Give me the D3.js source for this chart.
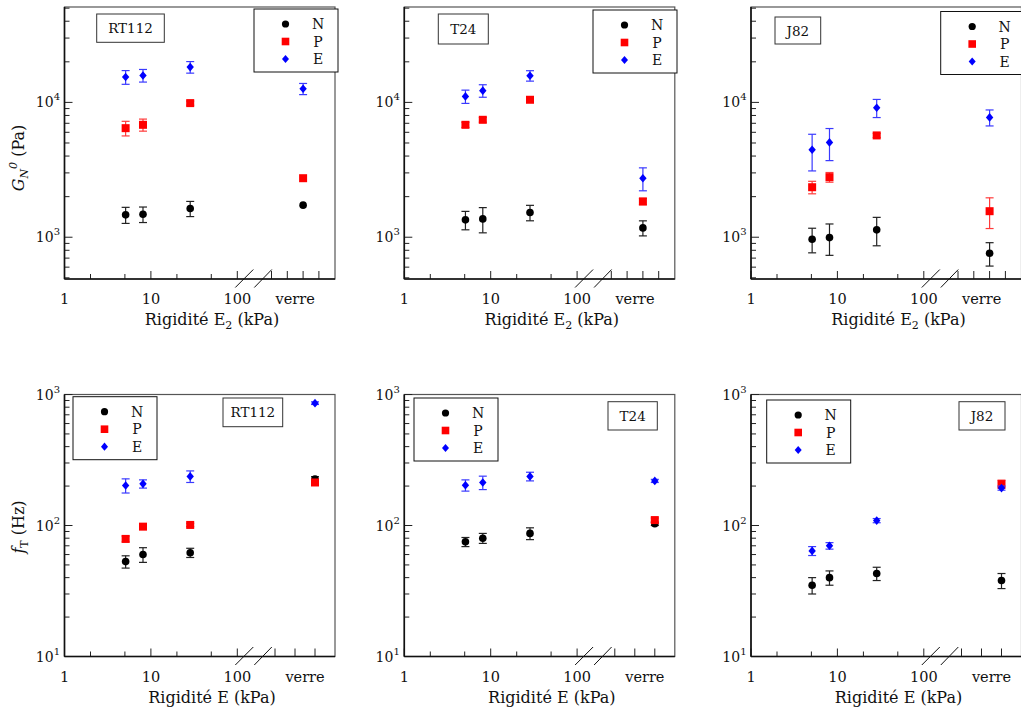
<!DOCTYPE html>
<html><head><meta charset="utf-8">
<script src="https://cdn.jsdelivr.net/npm/d3@7"></script>
<style>
body{margin:0;background:#fff}
svg{display:block}
text{font-family:"DejaVu Serif","Liberation Serif",serif;fill:#111}
</style>
</head><body>
<svg id="chart" width="1021" height="709"></svg>
<script>
// ---------------- DATA ----------------
const panelNames = ["RT112", "T24", "J82"];
const seriesNames = ["N", "P", "E"];
const xValues = [5.1, 8.1, 28.5, "verre"];           // stiffness (kPa) + glass
const xMajorTicks = [1, 10, 100];
const xMajorLabels = ["1", "10", "100"];
const xMinorTicks = [2, 5, 20, 50];
const verreLabel = "verre";

// Top row : G_N^0 (Pa)
const G_RT112_N = [1466, 1480, 1633, 1729];
const G_RT112_N_err = [200, 195, 210, 0];
const G_RT112_P = [6440, 6820, 9880, 2740];
const G_RT112_P_err = [800, 700, 350, 0];
const G_RT112_E = [15420, 15850, 18280, 12620];
const G_RT112_E_err = [1800, 1700, 1800, 1200];

const G_T24_N = [1345, 1368, 1524, 1173];
const G_T24_N_err = [210, 290, 200, 150];
const G_T24_P = [6820, 7430, 10460, 1842];
const G_T24_P_err = [300, 300, 300, 100];
const G_T24_E = [11080, 12220, 15780, 2740];
const G_T24_E_err = [1250, 1300, 1400, 530];

const G_J82_N = [966, 994, 1134, 761];
const G_J82_N_err = [200, 260, 270, 150];
const G_J82_P = [2349, 2790, 5690, 1560];
const G_J82_P_err = [250, 230, 200, 400];
const G_J82_E = [4453, 5050, 9120, 7740];
const G_J82_E_err = [1350, 1350, 1400, 1050];

// Bottom row : f_T (Hz)
const F_RT112_N = [53, 60, 62, 226];
const F_RT112_N_err = [5.7, 7.7, 5, 10];
const F_RT112_P = [79, 98, 101, 213];
const F_RT112_P_err = [4, 3, 3, 10];
const F_RT112_E = [202, 208, 237, 859];
const F_RT112_E_err = [25, 15, 24, 20];

const F_T24_N = [75, 80, 87, 103];
const F_T24_N_err = [6, 7, 9, 3];
const F_T24_P = [null, null, null, 110];
const F_T24_P_err = [0, 0, 0, 4];
const F_T24_E = [203, 213, 237, 219];
const F_T24_E_err = [20, 25, 18, 6];

const F_J82_N = [35, 40, 43, 38];
const F_J82_N_err = [5, 5, 5, 5];
const F_J82_P = [null, null, null, 207];
const F_J82_P_err = [0, 0, 0, 15];
const F_J82_E = [64, 70, 109, 193];
const F_J82_E_err = [5, 4, 4, 7];

// tables built from arrays
const topData = {
  RT112: {N:[G_RT112_N,G_RT112_N_err], P:[G_RT112_P,G_RT112_P_err], E:[G_RT112_E,G_RT112_E_err]},
  T24:   {N:[G_T24_N,G_T24_N_err],     P:[G_T24_P,G_T24_P_err],     E:[G_T24_E,G_T24_E_err]},
  J82:   {N:[G_J82_N,G_J82_N_err],     P:[G_J82_P,G_J82_P_err],     E:[G_J82_E,G_J82_E_err]}
};
const botData = {
  RT112: {N:[F_RT112_N,F_RT112_N_err], P:[F_RT112_P,F_RT112_P_err], E:[F_RT112_E,F_RT112_E_err]},
  T24:   {N:[F_T24_N,F_T24_N_err],     P:[F_T24_P,F_T24_P_err],     E:[F_T24_E,F_T24_E_err]},
  J82:   {N:[F_J82_N,F_J82_N_err],     P:[F_J82_P,F_J82_P_err],     E:[F_J82_E,F_J82_E_err]}
};

// ---------------- STYLE / LAYOUT ----------------
const colors = {N:"#000000", P:"#ff0000", E:"#0000ff"};
const errColors = {N:"#222222", P:"#ff3b3b", E:"#3a3aff"};
const colLeft = [64.5, 404.3, 751];
const plotW = 270.5;

const rows = [
  {top:7, bottom:279, domain:[490, 51000], data:topData,
   postDomain:[0,4], postRange:[207, 270.2], postTicks:[0,1,2,3], verreIdx:2,
   legend:[[189.5,2],[188.7,3],[189.7,4.5]],
   labelBox:[[32.2,7,67.6,28.3],[34,7,50,30],[24,10,45.7,27]],
   xTitle:"E2", yTitle:"G", yTitleY:158},
  {top:394.5, bottom:656.5, domain:[10, 1000], data:botData,
   postDomain:[0,3], postRange:[210.5, 270.5], postTicks:[0,1,2], verreIdx:2,
   legend:[[8.5,2.2],[9.7,3.5],[15.7,5.5]],
   labelBox:[[158.5,3.5,59.7,28.7],[203.7,7.2,49.3,28.3],[208,7.2,46,28.3]],
   xTitle:"E", yTitle:"f", yTitleY:527}
];

const svg = d3.select("#chart");

function drawMarker(sel, s, cx, cy, k) {
  k = k || 1;
  if (s === "N") {
    sel.append("circle").attr("cx",cx).attr("cy",cy).attr("r",3.8*k).attr("fill",colors.N);
  } else if (s === "P") {
    const h = 4*k;
    sel.append("rect").attr("x",cx-h).attr("y",cy-h).attr("width",2*h).attr("height",2*h).attr("fill",colors.P);
  } else {
    const w = 3.7*k, hh = 4.3*k;
    sel.append("path").attr("d",`M${cx},${cy-hh}L${cx+w},${cy}L${cx},${cy+hh}L${cx-w},${cy}Z`).attr("fill",colors.E);
  }
}

rows.forEach((row, ri) => {
  const y = d3.scaleLog().domain(row.domain).range([row.bottom, row.top]);
  const xLog = d3.scaleLog().domain([1, 100]).range([0, 172.8]);
  const xPost = d3.scaleLinear().domain(row.postDomain).range(row.postRange);
  const xPos = v => v === "verre" ? xPost(row.verreIdx) : xLog(v);

  panelNames.forEach((name, ci) => {
    const g = svg.append("g").attr("transform", `translate(${colLeft[ci]},0)`);

    // frame (top/right)
    g.append("rect").attr("x",0).attr("y",row.top).attr("width",plotW).attr("height",row.bottom-row.top)
      .attr("fill","none").attr("stroke","#555").attr("stroke-width",1.2);

    // y ticks
    y.ticks().forEach(t => {
      const lg = Math.log10(t);
      const major = Math.abs(lg - Math.round(lg)) < 1e-9;
      g.append("line").attr("x1",0).attr("x2",major?8:5).attr("y1",y(t)).attr("y2",y(t))
        .attr("stroke","#222").attr("stroke-width",1);
      if (major) {
        const tx = g.append("text").attr("x",-4.5).attr("y",y(t)+5).attr("text-anchor","end")
          .style("font-size","14px");
        tx.append("tspan").text("10");
        tx.append("tspan").attr("dy",-7).style("font-size","10px").text(String(Math.round(lg)));
      }
    });

    // x ticks (log part)
    xMajorTicks.forEach((t, i) => {
      g.append("line").attr("x1",xLog(t)).attr("x2",xLog(t)).attr("y1",row.bottom).attr("y2",row.bottom-8)
        .attr("stroke","#222").attr("stroke-width",1);
      g.append("text").attr("x",xLog(t)).attr("y",row.bottom+25).attr("text-anchor","middle")
        .style("font-size","14.5px").text(xMajorLabels[i]);
    });
    xMinorTicks.forEach(t => {
      g.append("line").attr("x1",xLog(t)).attr("x2",xLog(t)).attr("y1",row.bottom).attr("y2",row.bottom-5)
        .attr("stroke","#222").attr("stroke-width",1);
    });
    // x ticks (post-break part)
    row.postTicks.forEach(t => {
      g.append("line").attr("x1",xPost(t)).attr("x2",xPost(t)).attr("y1",row.bottom).attr("y2",row.bottom-8)
        .attr("stroke","#222").attr("stroke-width",1);
    });
    g.append("text").attr("x",xPost(row.verreIdx-0.5)).attr("y",row.bottom+25).attr("text-anchor","middle")
      .style("font-size","14.5px").text(verreLabel);

    // axes lines
    g.append("line").attr("x1",0).attr("x2",plotW).attr("y1",row.bottom).attr("y2",row.bottom)
      .attr("stroke","#111").attr("stroke-width",1.6);
    g.append("line").attr("x1",0).attr("x2",0).attr("y1",row.top).attr("y2",row.bottom)
      .attr("stroke","#111").attr("stroke-width",1.6);

    // break marks
    const b0 = xLog(100);
    [[b0-2, b0+16],[b0+17, b0+34.5]].forEach(([a,b]) => {
      g.append("line").attr("x1",a).attr("y1",row.bottom+8.5).attr("x2",b).attr("y2",row.bottom-9.5)
        .attr("stroke","#111").attr("stroke-width",1);
    });

    // x title
    const xt = g.append("text").attr("x",147.5).attr("y",row.bottom+46).attr("text-anchor","middle")
      .style("font-size","16px");
    if (row.xTitle === "E2") {
      xt.append("tspan").text("Rigidité E");
      xt.append("tspan").attr("dy",4).style("font-size","11px").text("2");
      xt.append("tspan").attr("dy",-4).text(" (kPa)");
    } else {
      xt.text("Rigidité E (kPa)");
    }

    // y title (leftmost only)
    if (ci === 0) {
      const yt = svg.append("text").attr("transform",`translate(24,${row.yTitleY}) rotate(-90)`)
        .attr("text-anchor","middle").style("font-size","16px");
      if (row.yTitle === "G") {
        yt.append("tspan").style("font-style","italic").text("G");
        yt.append("tspan").attr("dy",4).style("font-size","11px").style("font-style","italic").text("N");
        yt.append("tspan").attr("dy",-11).style("font-size","11px").style("font-style","italic").text("0");
        yt.append("tspan").attr("dy",7).text(" (Pa)");
      } else {
        yt.append("tspan").style("font-style","italic").text("f");
        yt.append("tspan").attr("dy",4).style("font-size","11px").text("T");
        yt.append("tspan").attr("dy",-4).text(" (Hz)");
      }
    }

    // data: error bars + markers
    const pd = row.data[name];
    seriesNames.forEach(s => {
      const [vals, errs] = pd[s];
      const sg = g.append("g");
      vals.forEach((v, i) => {
        if (v == null) return;
        const cx = xPos(xValues[i]);
        const e = errs[i];
        if (e > 0) {
          const y1 = y(v + e), y2 = y(Math.max(v - e, 1e-3));
          sg.append("line").attr("x1",cx).attr("x2",cx).attr("y1",y1).attr("y2",y2)
            .attr("stroke",errColors[s]).attr("stroke-width",1.2);
          [y1, y2].forEach(yy => sg.append("line").attr("x1",cx-4).attr("x2",cx+4).attr("y1",yy).attr("y2",yy)
            .attr("stroke",errColors[s]).attr("stroke-width",1.2));
        }
        drawMarker(sg, s, cx, y(v));
      });
    });

    // legend
    const [lx, ly] = row.legend[ci];
    const lg = g.append("g").attr("transform",`translate(${lx},${row.top+ly})`);
    lg.append("rect").attr("width",84).attr("height",63).attr("fill","#fff").attr("stroke","#111").attr("stroke-width",1);
    seriesNames.forEach((s, i) => {
      const yy = 15 + i*17.5;
      drawMarker(lg, s, 31.5, yy, 0.95);
      lg.append("text").attr("x",64).attr("y",yy+5).attr("text-anchor","middle").style("font-size","14px").text(s);
    });

    // label box
    const [bx, by, bw, bh] = row.labelBox[ci];
    g.append("rect").attr("x",bx).attr("y",row.top+by).attr("width",bw).attr("height",bh)
      .attr("fill","#fff").attr("stroke","#333").attr("stroke-width",1);
    g.append("text").attr("x",bx+bw/2).attr("y",row.top+by+bh/2+5).attr("text-anchor","middle")
      .style("font-size","13.5px").text(name);
  });
});
</script>
</body></html>
